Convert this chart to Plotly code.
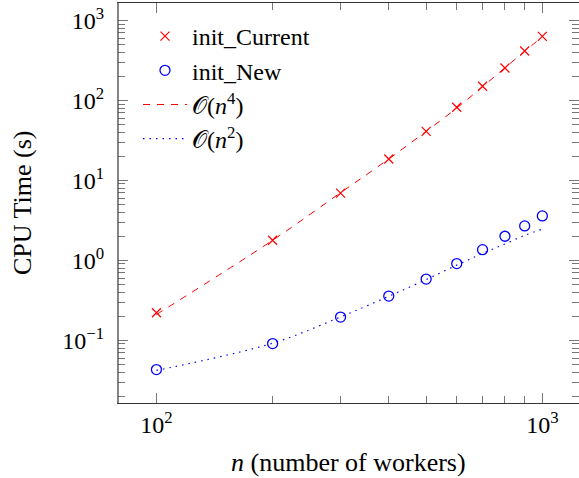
import plotly.graph_objects as go

n_workers = [100, 200, 300, 400, 500, 600, 700, 800, 900, 1000]
init_current = [0.221, 1.78, 6.93, 18.5, 41.0, 82.0, 150.0, 254.0, 414.0, 632.0]
init_new = [0.043, 0.091, 0.195, 0.357, 0.583, 0.91, 1.36, 2.0, 2.69, 3.59]
fit_n4 = [0.21, 1.78, 7.0, 18.5, 41.0, 80.0, 148.0, 255.0, 410.0, 625.0]
fit_n2 = [0.042, 0.092, 0.196, 0.355, 0.575, 0.87, 1.22, 1.6, 2.05, 2.45]

x_tickvals = [100, 1000]
x_ticktext = ["10<sup>2</sup>", "10<sup>3</sup>"]
y_tickvals = [0.1, 1, 10, 100, 1000]
y_ticktext = ["10<sup>\u22121</sup>", "10<sup>0</sup>", "10<sup>1</sup>", "10<sup>2</sup>", "10<sup>3</sup>"]
x_minor = [200, 300, 400, 500, 600, 700, 800, 900]
y_minor = [m * 10 ** e for e in range(-2, 4) for m in range(2, 10)]

FONT = "Liberation Serif"
RED = "#ff0000"
BLUE = "#0000ff"
SPINE = "#333333"

fig = go.Figure()
fig.add_trace(go.Scatter(
    x=n_workers, y=init_current, mode="markers", name="init_Current",
    marker=dict(symbol="x-thin", size=9, line=dict(color=RED, width=1.2), color=RED),
    legendgroup="a"))
fig.add_trace(go.Scatter(
    x=n_workers, y=init_new, mode="markers", name="init_New",
    marker=dict(symbol="circle-open", size=10, color=BLUE, line=dict(width=1.3)),
    legendgroup="b"))
fig.add_trace(go.Scatter(
    x=n_workers, y=fit_n4, mode="lines", name="\U0001D4AA(<i>n</i><sup>4</sup>)",
    line=dict(color=RED, width=1, dash="7px,7px", shape="spline"),
    legendgroup="c"))
fig.add_trace(go.Scatter(
    x=n_workers, y=fit_n2, mode="lines", name="\U0001D4AA(<i>n</i><sup>2</sup>)",
    line=dict(color=BLUE, width=1.2, dash="1.5px,5px", shape="spline"),
    legendgroup="d"))

axis_common = dict(
    type="log", showgrid=False, zeroline=False,
    showline=True, linewidth=1.2, mirror="allticks",
    ticks="inside", ticklen=10, tickwidth=1, tickcolor="#777777",
    tickfont=dict(family=FONT, size=24, color="black"),
)

fig.update_xaxes(
    **axis_common, linecolor=SPINE, range=[1.9004, 3.095],
    tickmode="array", tickvals=x_tickvals, ticktext=x_ticktext,
    minor=dict(tickmode="array", tickvals=x_minor, ticks="inside", ticklen=7,
               tickwidth=1, tickcolor="#777777", showgrid=False),
    ticklabelstandoff=0,
)
fig.update_yaxes(
    **axis_common, linecolor="rgba(0,0,0,0)", range=[-1.784, 3.217],
    tickmode="array", tickvals=y_tickvals, ticktext=y_ticktext,
    minor=dict(tickmode="array", tickvals=y_minor, ticks="inside", ticklen=7,
               tickwidth=1, tickcolor="#777777", showgrid=False),
    ticklabelstandoff=8,
)

fig.update_layout(
    width=579, height=478,
    margin=dict(l=118, r=0, t=3, b=75, autoexpand=False),
    paper_bgcolor="white", plot_bgcolor="white",
    font=dict(family=FONT, size=26, color="black"),
    showlegend=True,
    legend=dict(
        xref="container", yref="container", x=138 / 579, y=1 - 14 / 478,
        xanchor="left", yanchor="top", bgcolor="rgba(255,255,255,0)",
        borderwidth=0, font=dict(family=FONT, size=24),
        traceorder="grouped", tracegroupgap=0, itemwidth=44,
    ),
    shapes=[
        dict(type="line", xref="paper", yref="paper", x0=0, x1=0, y0=0, y1=1,
             line=dict(color=SPINE, width=1.2), layer="above"),
    ],
    annotations=[
        dict(text="<i>n</i> (number of workers)", xref="paper", yref="paper",
             x=0.5, y=-(463 - 403) / 400, xanchor="center", yanchor="middle",
             showarrow=False, font=dict(family=FONT, size=26)),
        dict(text="CPU Time (s)", xref="paper", yref="paper",
             x=(22 - 118) / 461, y=0.5, xanchor="center", yanchor="middle", textangle=-90,
             showarrow=False, font=dict(family=FONT, size=26)),
    ],
)

fig.write_html(
    "out.html",
    config={"displayModeBar": False},
    post_script="document.body.style.margin='0';document.body.style.overflow='hidden';",
)
